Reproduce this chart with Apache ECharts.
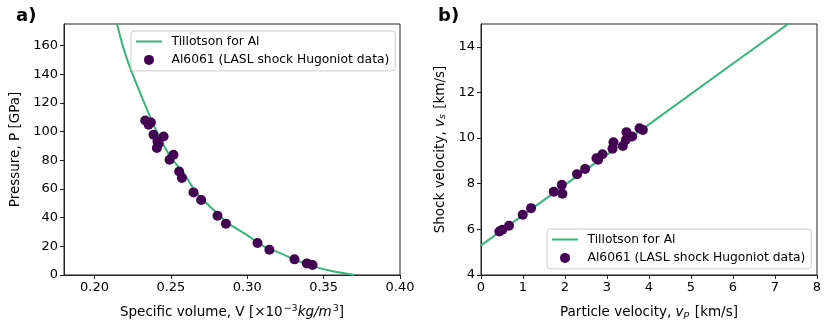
<!DOCTYPE html>
<html>
<head>
<meta charset="utf-8">
<script src="https://cdn.jsdelivr.net/npm/echarts@6/dist/echarts.min.js"></script>
<style>
  html, body { margin: 0; padding: 0; background: #fff; }
  #chart { width: 831px; height: 332px; }
</style>
</head>
<body>
<div id="chart"></div>
<script>
// panel a) data points: specific volume vs pressure
var specVol = [0.2332, 0.2354, 0.2369, 0.2386, 0.2452, 0.2412, 0.2408, 0.2420, 0.2491, 0.2517,
               0.2554, 0.2572, 0.2648, 0.2698, 0.2805, 0.2860, 0.3067, 0.3145, 0.3309, 0.3390, 0.3427];
var pressure = [107.7, 104.7, 106.3, 97.8, 96.6, 93.1, 88.5, 91.5, 80.3, 83.8,
                72.2, 67.6, 57.6, 52.3, 41.3, 35.8, 22.3, 17.6, 10.9, 8.1, 7.0];
// panel a) Tillotson curve
var curveV = [0.2115, 0.2147, 0.2190, 0.2238, 0.2373, 0.2435, 0.2500, 0.2584, 0.2670, 0.2779,
              0.2870, 0.2997, 0.3100, 0.3215, 0.3320, 0.3433, 0.3560, 0.3700];
var curveP = [190, 175, 158, 143, 108, 94, 82, 71, 57, 45.5,
              36.5, 28, 20.5, 15.3, 10.3, 6.0, 2.6, 0];

// panel b) data points: particle velocity vs shock velocity
var partVel = [0.437, 0.508, 0.667, 0.993, 1.192, 1.732, 1.923, 1.938, 2.288, 2.479, 2.749,
               2.788, 2.892, 3.130, 3.154, 3.377, 3.448, 3.464, 3.599, 3.774, 3.853];
var shockVel = [5.91, 5.98, 6.16, 6.64, 6.93, 7.65, 7.95, 7.56, 8.42, 8.65, 9.12,
                9.05, 9.29, 9.53, 9.82, 9.65, 9.92, 10.26, 10.07, 10.43, 10.36];
// panel b) Tillotson line
var lineUp = [0, 2, 4, 6, 7.5];
var lineUs = [5.3, 7.95, 10.6, 13.27, 15.25];

var ticksVa = [0.20, 0.25, 0.30, 0.35, 0.40];
var ticksPa = [0, 20, 40, 60, 80, 100, 120, 140, 160];
var ticksUp = [0, 1, 2, 3, 4, 5, 6, 7, 8];
var ticksUs = [4, 6, 8, 10, 12, 14];

var lineName = 'Tillotson for Al';
var dotName = 'Al6061 (LASL shock Hugoniot data)';

function pairs(xs, ys) {
  return xs.map(function (x, i) { return [x, ys[i]]; });
}

var green = '#35b779';
var purple = '#440154';
var font = 'DejaVu Sans';
var nameRich = {
  n: { fontFamily: font, fontSize: 13.5, color: '#000' },
  i: { fontFamily: font, fontSize: 13.5, fontStyle: 'italic', color: '#000' },
  sup: { fontFamily: font, fontSize: 9.5, color: '#000', padding: [0, 0, 7, 1] },
  sub: { fontFamily: font, fontSize: 9.5, fontStyle: 'italic', color: '#000', padding: [6, 1, 0, 0] }
};

function axis(extra) {
  var base = {
    type: 'value',
    nameLocation: 'middle',
    nameTextStyle: { fontFamily: font, fontSize: 13.5, color: '#000', rich: nameRich },
    axisLine: { show: true, onZero: false, lineStyle: { color: '#222', width: 1 } },
    axisTick: { show: true, length: 4, lineStyle: { color: '#222' } },
    axisLabel: { fontFamily: font, fontSize: 13, color: '#000', margin: 6 },
    splitLine: { show: false }
  };
  for (var k in extra) {
    if (typeof extra[k] === 'object' && base[k] && !Array.isArray(extra[k])) {
      base[k] = Object.assign({}, base[k], extra[k]);
    } else {
      base[k] = extra[k];
    }
  }
  return base;
}

var legendBase = {
  orient: 'vertical',
  itemWidth: 26,
  itemHeight: 10,
  itemGap: 4.4,
  symbolKeepAspect: true,
  padding: [3.5, 6, 4, 5],
  borderColor: '#cccccc',
  borderWidth: 1,
  borderRadius: 3,
  backgroundColor: 'rgba(255,255,255,0.85)',
  textStyle: { fontFamily: font, fontSize: 12.3, lineHeight: 14, color: '#000', padding: [0, 0, 0, 4.5] },
  data: [
    { name: lineName, icon: 'path://M0,0 h26 v2 h-26 Z' },
    { name: dotName, icon: 'circle' }
  ]
};

var myChart = echarts.init(document.getElementById('chart'));
var option = {
  animation: false,
  backgroundColor: '#fff',
  title: [
    { text: 'a)', left: 11, top: 2, textStyle: { fontFamily: font, fontSize: 18, fontWeight: 'bold', color: '#000' } },
    { text: 'b)', left: 433, top: 2, textStyle: { fontFamily: font, fontSize: 18, fontWeight: 'bold', color: '#000' } }
  ],
  grid: [
    { left: 64, top: 24, right: 431, bottom: 57, show: true, borderColor: '#222', borderWidth: 1 },
    { left: 481, top: 24, right: 14, bottom: 57, show: true, borderColor: '#222', borderWidth: 1 }
  ],
  legend: [
    Object.assign({}, legendBase, { left: 131, top: 31 }),
    Object.assign({}, legendBase, { left: 547, top: 229 })
  ],
  xAxis: [
    axis({
      gridIndex: 0, min: 0.18, max: 0.40,
      name: '{n|Specific volume, V [×10}{sup|−3}{i|kg/m}{sup|3}{n|]}', nameGap: 29,
      axisLabel: { customValues: ticksVa, formatter: function (v) { return v.toFixed(2); } },
      axisTick: { customValues: ticksVa }
    }),
    axis({
      gridIndex: 1, min: 0, max: 8,
      name: '{n|Particle velocity, }{i|v}{sub|p}{n| [km/s]}', nameGap: 29,
      axisLabel: { customValues: ticksUp },
      axisTick: { customValues: ticksUp }
    })
  ],
  yAxis: [
    axis({
      gridIndex: 0, min: 0, max: 175,
      name: 'Pressure, P [GPa]', nameGap: 42, nameRotate: 90,
      axisLabel: { customValues: ticksPa },
      axisTick: { customValues: ticksPa }
    }),
    axis({
      gridIndex: 1, min: 4, max: 15,
      name: '{n|Shock velocity, }{i|v}{sub|s}{n| [km/s]}', nameGap: 33, nameRotate: 90,
      axisLabel: { customValues: ticksUs },
      axisTick: { customValues: ticksUs }
    })
  ],
  series: [
    {
      name: lineName, type: 'line', xAxisIndex: 0, yAxisIndex: 0,
      data: pairs(curveV, curveP), smooth: 0.3, symbol: 'none', clip: true,
      lineStyle: { color: green, width: 2 }, itemStyle: { color: green }, z: 2
    },
    {
      name: dotName, type: 'scatter', xAxisIndex: 0, yAxisIndex: 0,
      data: pairs(specVol, pressure), symbolSize: 10,
      itemStyle: { color: purple, opacity: 1 }, z: 3
    },
    {
      name: lineName, type: 'line', xAxisIndex: 1, yAxisIndex: 1,
      data: pairs(lineUp, lineUs), symbol: 'none', clip: true,
      lineStyle: { color: green, width: 2 }, itemStyle: { color: green }, z: 2
    },
    {
      name: dotName, type: 'scatter', xAxisIndex: 1, yAxisIndex: 1,
      data: pairs(partVel, shockVel), symbolSize: 10,
      itemStyle: { color: purple, opacity: 1 }, z: 3
    }
  ]
};
myChart.setOption(option);
</script>
</body>
</html>
